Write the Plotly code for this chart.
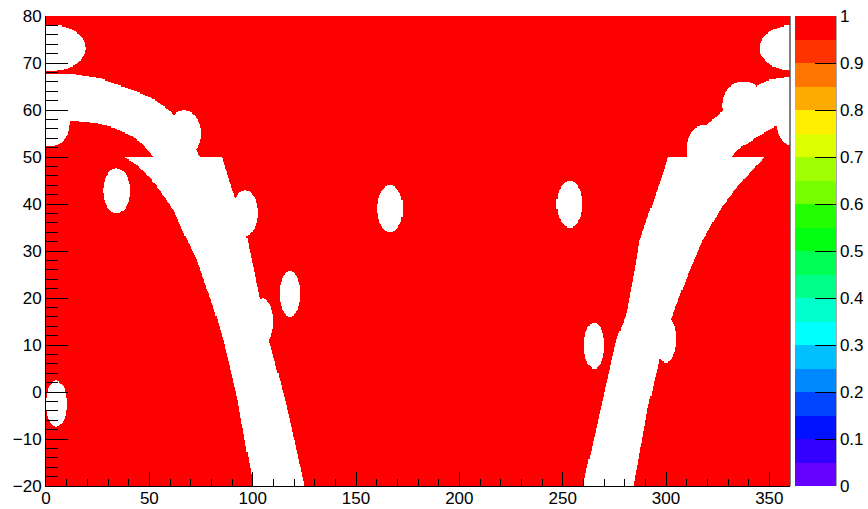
import numpy as np
import plotly.graph_objects as go

# ---- sky-map binning (RA along x, Dec along y), degrees ----
RA_STEP = 0.5
DEC_STEP = 0.25
RA_RANGE = [0, 360]
DEC_RANGE = [-20, 80]

# ---- masked galactic-plane band, upper part (Dec > 50), polygon vertices (RA, Dec) ----
band_upper_left = [
    (0, 67.7), (12, 67.8), (26.3, 66.7), (42.3, 64.2), (51, 62.6), (60.5, 59.6),
    (66, 57.0), (74.5, 50.0),
    (52.3, 50.0), (47.5, 52.5), (42.2, 54.3), (33, 56.2), (23.3, 57.3), (12, 57.8), (0, 57.7),
]
band_upper_right = [
    (360, 67.1), (350, 66.4), (343.7, 65.1), (334.6, 62.6), (326.7, 59.6), (321, 57.3),
    (315.5, 54.5), (311, 50.0),
    (332, 50.0), (335.6, 51.8), (345.2, 54.6), (353, 56.5), (360, 57.7),
]

# ---- masked galactic-plane band, lower part (Dec < 50) ----
band_lower_left = [
    (37.4, 50.0), (44, 48.3), (50.5, 45.6), (61.7, 38.7), (67.5, 33.0), (73, 28.0),
    (81, 18.1), (85.8, 11.0), (92.4, -1.0), (100.3, -20.0),
    (125.3, -20.0), (116.5, -3.2), (108.4, 10.3), (103.6, 19.5), (97.1, 33.0),
    (90.7, 42.2), (85, 50.0),
]
band_lower_right = [
    (300.9, 50.0), (298.5, 46.5), (292.9, 39.4), (287.3, 32.3), (284.8, 25.9),
    (280.8, 16.7), (276, 11.0), (268.6, -3.2), (259.8, -20.0),
    (284.3, -20.0), (291.5, -3.0), (298.9, 11.0), (304.6, 18.0), (311.4, 25.9),
    (317.9, 32.3), (326, 38.7), (335.6, 44.3), (347.7, 50.0),
]

# ---- masked point sources: centre RA, centre Dec, half-width RA, half-width Dec ----
src_ra = [2.3, 2.3, 5.0, 34.1, 66.8, 96.4, 104.9, 118.0, 166.4, 253.4, 265.2, 300.0, 317.9, 337.5]
src_dec = [73.2, 57.2, -2.5, 42.8, 55.0, 38.1, 15.0, 20.9, 39.0, 40.0, 9.9, 11.2, 51.7, 61.1]
src_dra = [17.0, 9.0, 4.9, 6.4, 8.2, 6.0, 5.1, 5.1, 6.3, 6.3, 4.8, 5.1, 8.1, 10.3]
src_ddec = [4.9, 5.0, 4.9, 4.85, 4.9, 4.8, 4.9, 4.85, 5.0, 5.0, 4.9, 4.9, 5.0, 5.0]

# ---- palette: 20 contour levels from 0 to 1 ----
palette = [
    "#6600ff", "#3300ff", "#0011ff", "#0044ff", "#0088ff",
    "#00c0ff", "#00ffff", "#00ffcc", "#00ff88", "#00ff55",
    "#00ff11", "#22ff00", "#77ff00", "#a0ff00", "#ddff00",
    "#ffee00", "#ffaa00", "#ff7700", "#ff3300", "#ff0000",
]
cbar_ticks = [0, 0.1, 0.2, 0.3, 0.4, 0.5, 0.6, 0.7, 0.8, 0.9, 1]
cbar_labels = ["0", "0.1", "0.2", "0.3", "0.4", "0.5", "0.6", "0.7", "0.8", "0.9", "1"]
x_ticks = [0, 50, 100, 150, 200, 250, 300, 350]
y_ticks = [-20, -10, 0, 10, 20, 30, 40, 50, 60, 70, 80]


def in_polygon(px, py, poly):
    """Even-odd ray casting test for every grid point."""
    pts = np.asarray(poly, dtype=float)
    res = np.zeros(px.shape, dtype=bool)
    n = len(pts)
    j = n - 1
    for i in range(n):
        xi, yi = pts[i]
        xj, yj = pts[j]
        crosses = (yi > py) != (yj > py)
        with np.errstate(divide="ignore", invalid="ignore"):
            xint = (xj - xi) * (py - yi) / (yj - yi) + xi
        res ^= crosses & (px < xint)
        j = i
    return res


ra_c = np.arange(RA_RANGE[0] + RA_STEP / 2, RA_RANGE[1], RA_STEP)
dec_c = np.arange(DEC_RANGE[0] + DEC_STEP / 2, DEC_RANGE[1], DEC_STEP)
RA, DEC = np.meshgrid(ra_c, dec_c)

masked = np.zeros(RA.shape, dtype=bool)
for poly in (band_upper_left, band_upper_right, band_lower_left, band_lower_right):
    masked |= in_polygon(RA, DEC, poly)
for cx, cy, rx, ry in zip(src_ra, src_dec, src_dra, src_ddec):
    dx = ((RA - cx + 180.0) % 360.0) - 180.0
    masked |= (dx / rx) ** 2 + ((DEC - cy) / ry) ** 2 <= 1.0

coverage = np.where(masked, np.nan, 1.0)

# stepped colour scale
n = len(palette)
colorscale = []
for i, c in enumerate(palette):
    colorscale.append([i / n, c])
    colorscale.append([(i + 1) / n, c])

FONT = dict(family="Liberation Sans, Arial, sans-serif", size=17, color="black")

W, H = 868, 509
ML, MR, MT, MB = 46, 78, 16, 23
PLOT_W = W - ML - MR
CB_X = 1 + 5 / PLOT_W
CB_THICK = 41

fig = go.Figure(
    go.Heatmap(
        x=ra_c, y=dec_c, z=coverage,
        zmin=0, zmax=1, zsmooth=False,
        colorscale=colorscale,
        hoverinfo="skip",
        colorbar=dict(
            x=CB_X, xanchor="left", xpad=0,
            y=0, yanchor="bottom", ypad=0,
            len=1, lenmode="fraction",
            thickness=CB_THICK, thicknessmode="pixels",
            outlinewidth=0,
            tickvals=cbar_ticks, ticktext=cbar_labels,
            ticks="inside", ticklen=21, tickwidth=1, tickcolor="black",
            tickfont=FONT,
        ),
    )
)

fig.update_layout(
    width=W, height=H,
    margin=dict(l=ML, r=MR, t=MT, b=MB, pad=0, autoexpand=False),
    paper_bgcolor="white", plot_bgcolor="white",
    font=FONT,
    showlegend=False,
    xaxis=dict(
        range=RA_RANGE, tickvals=x_ticks, ticks="inside", ticklen=14,
        tickwidth=1, tickcolor="black",
        minor=dict(dtick=10, tick0=0, ticks="inside", ticklen=7, tickcolor="black", tickwidth=1),
        showline=True, linecolor="black", linewidth=1, mirror=False,
        showgrid=False, zeroline=False, tickfont=FONT,
        ticklabelstandoff=-3,
    ),
    yaxis=dict(
        range=DEC_RANGE, tickvals=y_ticks, ticks="inside", ticklen=22,
        tickwidth=1, tickcolor="black",
        minor=dict(dtick=2, tick0=0, ticks="inside", ticklen=12, tickcolor="black", tickwidth=1),
        showline=True, linecolor="black", linewidth=1, mirror=False,
        showgrid=False, zeroline=False, tickfont=FONT,
    ),
)

# frame on the right side of the map (hidden behind filled bins)
fig.add_shape(type="line", xref="paper", yref="paper", x0=1, x1=1, y0=0, y1=1,
              line=dict(color="black", width=1), layer="below")
# axis line of the palette
cb_right = CB_X + CB_THICK / PLOT_W
fig.add_shape(type="line", xref="paper", yref="paper", x0=cb_right, x1=cb_right, y0=0, y1=1,
              line=dict(color="#555555", width=1), layer="above")

fig.write_html("out.html")
